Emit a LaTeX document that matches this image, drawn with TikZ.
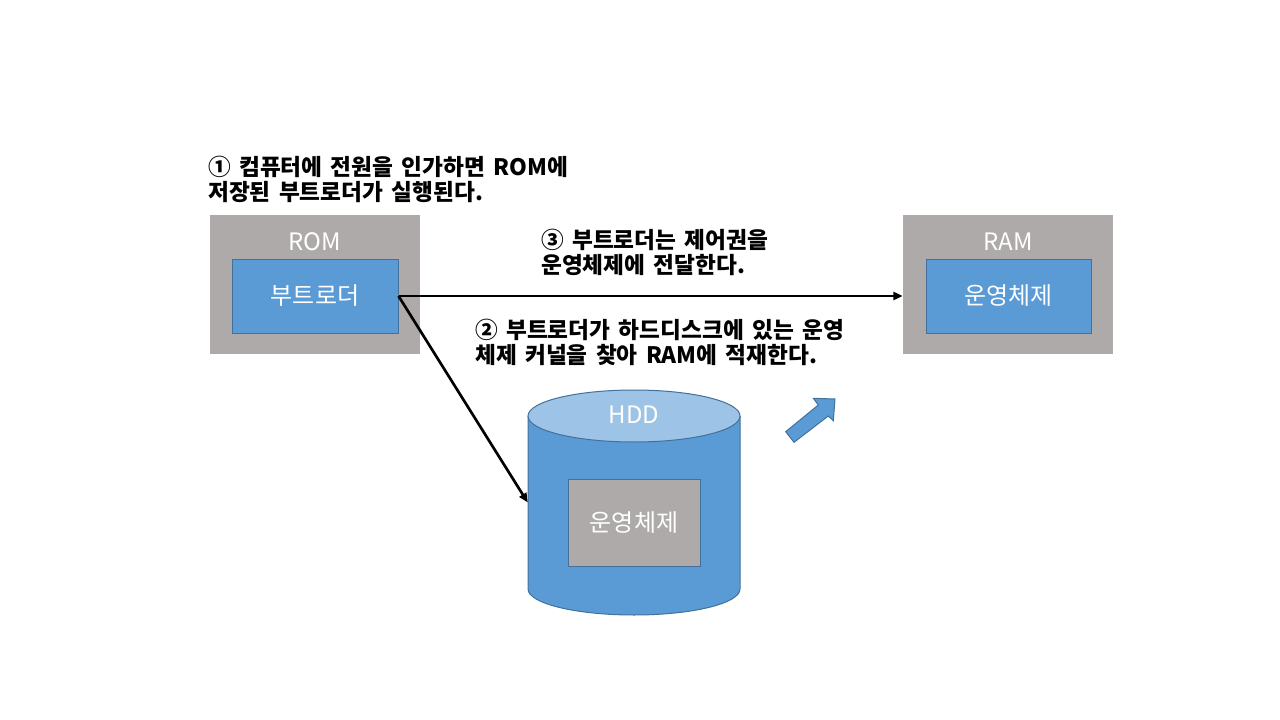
\documentclass[tikz,border=0pt]{standalone}
\usepackage{fontspec}
\setmainfont{Noto Sans CJK KR}
\newfontfamily\notefont{Noto Sans CJK KR}[WordSpace=1.6]
\usetikzlibrary{arrows.meta}
\definecolor{boxgray}{HTML}{AEAAAA}
\definecolor{boxblue}{HTML}{5B9BD5}
\definecolor{boxborder}{HTML}{41719C}
\definecolor{toplight}{HTML}{9DC3E6}
\tikzset{
  graybox/.style={fill=boxgray, draw=none, inner sep=0},
  bluebox/.style={fill=boxblue, draw=boxborder, line width=0.75pt, inner sep=0, text=white, font=\fontsize{18}{22}\selectfont},
  innergray/.style={fill=boxgray, draw=boxborder, line width=0.75pt, inner sep=0, text=white, font=\fontsize{18}{22}\selectfont},
  boxtitle/.style={text=white, inner sep=0, font=\fontsize{18}{22}\selectfont},
  note/.style={anchor=north west, inner sep=0, align=left, font=\notefont\bfseries\fontsize{17}{18.75}\selectfont},
  conn/.style={line width=2pt, -{Triangle[length=7pt,width=6pt]}},
}
\begin{document}
\begin{tikzpicture}[x=0.75pt,y=-0.75pt]
\useasboundingbox (0,0) rectangle (1280,720);
% ROM
\node[graybox, minimum width=157.5pt, minimum height=104.25pt] (rom) at (315,284.5) {};
\node[boxtitle] (romlabel) at (315,242) {ROM};
\node[bluebox, minimum width=124.5pt, minimum height=55.5pt] (boot) at (315,296) {부트로더};
% RAM
\node[graybox, minimum width=157.5pt, minimum height=104.25pt] (ram) at (1008,284.5) {};
\node[boxtitle] (ramlabel) at (1008,242) {RAM};
\node[bluebox, minimum width=123.75pt, minimum height=55.5pt] (osram) at (1008.5,296) {운영체제};
% HDD cylinder
\fill[boxblue] (528,416) -- (528,589) arc[start angle=180, end angle=0, x radius=106, y radius=26] -- (740,416) -- cycle;
\draw[boxborder, line width=0.75pt] (528,416) -- (528,589) arc[start angle=180, end angle=0, x radius=106, y radius=26] -- (740,416);
\filldraw[fill=toplight, draw=boxborder, line width=0.75pt] (634,416) ellipse [x radius=106, y radius=26];
\node[inner sep=0, minimum width=159pt, minimum height=129.75pt] (hdd) at (634,502.5) {};
\node[boxtitle] (hddlabel) at (634,415) {HDD};
\node[innergray, minimum width=99pt, minimum height=65.25pt] (oshdd) at (634,522.5) {운영체제};
% block arrow
\filldraw[fill=boxblue, draw=boxborder, line width=0.75pt]
  (785.7,431.7) -- (818.3,405) -- (813.3,398.3) -- (835,399) -- (833.3,420.7) -- (828.3,416) -- (794,442.3) -- cycle;
% connectors
\draw[conn] (boot.east) -- (boot.east -| ram.west);
\draw[conn] (boot.east) -- (hdd.west);
% notes
\node[note] (n1) at (208,156) {① 컴퓨터에 전원을 인가하면 ROM에\\저장된 부트로더가 실행된다.};
\node[note] (n3) at (541,229) {③ 부트로더는 제어권을\\운영체제에 전달한다.};
\node[note] (n2) at (475,319) {② 부트로더가 하드디스크에 있는 운영\\체제 커널을 찾아 RAM에 적재한다.};
\end{tikzpicture}
\end{document}
